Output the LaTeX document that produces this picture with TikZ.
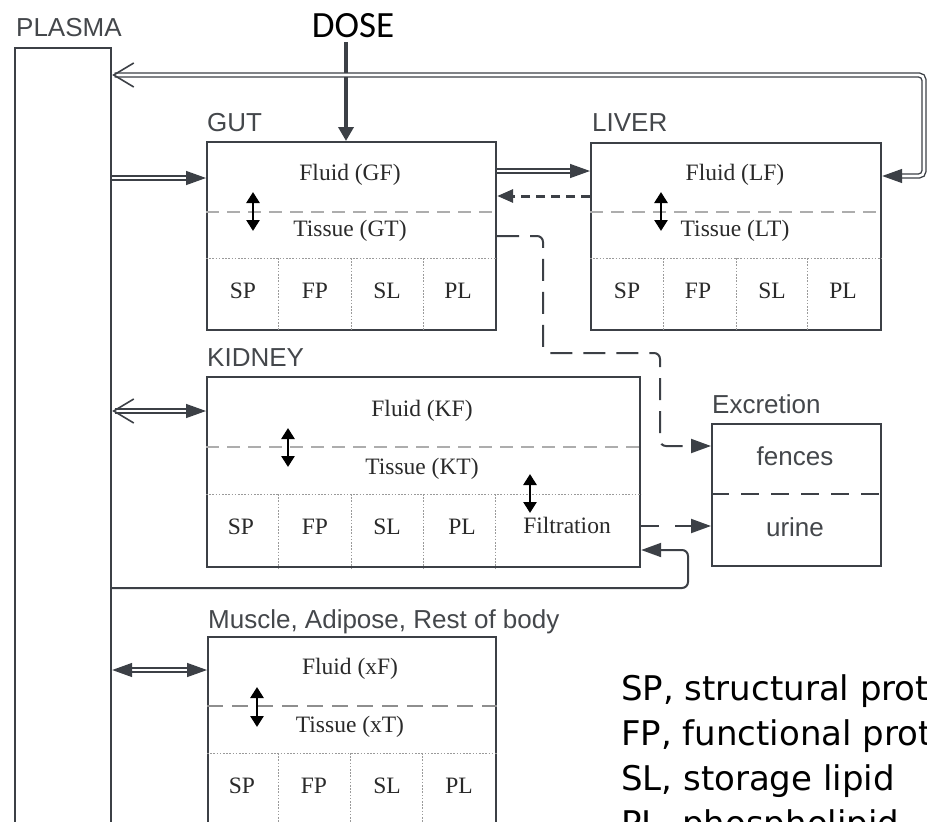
\documentclass[tikz,border=0pt]{standalone}
\usepackage{fontspec}
\usetikzlibrary{arrows.meta}
\newfontfamily\lblfont{Liberation Sans}
\newfontfamily\serfont{Liberation Serif}
\newfontfamily\dosefont{Carlito}
\newfontfamily\legfont{DejaVu Sans}
\definecolor{boxc}{HTML}{3C4046}
\definecolor{lblc}{HTML}{44474B}
\definecolor{txtc}{HTML}{2A2A2A}
\definecolor{dashc}{HTML}{ADADAD}
\definecolor{mdashc}{HTML}{8E8E8E}
\definecolor{dotc}{HTML}{9A9A9A}
\tikzset{
  fh/.tip={Triangle[length=20pt,width=14pt]},
  ob/.tip={Straight Barb[length=20pt,width=24pt,line width=1.6pt]},
  organ/.style={draw=boxc, line width=2.2pt, rectangle, inner sep=0pt, anchor=north west},
  lbl/.style={font=\lblfont\fontsize{26}{30}\selectfont, text=lblc, anchor=base west, inner sep=0pt},
  ser/.style={font=\serfont\fontsize{23.5}{27}\selectfont, text=txtc, anchor=base, inner sep=0pt},
  leg/.style={font=\legfont\fontsize{34}{40}\selectfont, text=black, anchor=base west, inner sep=0pt},
  fdash/.style={draw=dashc, line width=1.3pt, dash pattern=on 13pt off 8pt},
  mdash/.style={draw=mdashc, line width=2pt, dash pattern=on 16pt off 9pt},
  cdot/.style={draw=dotc, line width=0.9pt, dash pattern=on 1.6pt off 1.6pt},
  xarr/.style={draw=black, line width=2.6pt, {Triangle[length=11pt,width=13pt]}-{Triangle[length=11pt,width=13pt]}},
  dbl/.style={draw=boxc, double=white, line width=1.4pt, double distance=2.6pt},
  conn/.style={draw=boxc, line width=2pt},
}
\begin{document}
\begin{tikzpicture}[x=1pt,y=-1pt]
\useasboundingbox (0,0) rectangle (927,822);
\clip (0,0) rectangle (927,822);
\fill[white] (0,0) rectangle (927,822);

% ---------- boxes ----------
\node[organ, minimum width=96pt, minimum height=900pt] (plasma) at (14,47) {};
\node[organ, minimum width=289pt, minimum height=188pt] (gut) at (206,141) {};
\node[organ, minimum width=290pt, minimum height=187pt] (liver) at (590,142) {};
\node[organ, minimum width=433pt, minimum height=190pt] (kidney) at (206,376) {};
\node[organ, minimum width=169pt, minimum height=142pt] (excr) at (711,423) {};
\node[organ, minimum width=288pt, minimum height=190pt] (muscle) at (207,636) {};

% ---------- labels ----------
\node[lbl] (lplasma) at (16,36) {PLASMA};
\node[lbl] (lgut) at (207,131) {GUT};
\node[lbl] (lliver) at (592,131) {LIVER};
\node[lbl] (lkidney) at (207,366) {KIDNEY};
\node[lbl] (lexcr) at (712,413) {Excretion};
\node[lbl] (lmuscle) at (208,628) {Muscle, Adipose, Rest of body};
\node[font=\dosefont\fontsize{37}{42}\selectfont, text=black, anchor=base, inner sep=0pt] (dose) at (353,37) {DOSE};

% ---------- gut internals ----------
\draw[fdash] (gut.west |- 0,212) -- (gut.east |- 0,212);
\draw[cdot] (gut.west |- 0,258) -- (gut.east |- 0,258);
\foreach \xx in {278,351,423} \draw[cdot] (\xx,258) -- (\xx,0 |- gut.south);
\node[ser] (gf) at (350,180) {Fluid (GF)};
\node[ser] (gt) at (350,236) {Tissue (GT)};
\node[ser] (gsp) at (243,298) {SP};
\node[ser] (gfp) at (315,298) {FP};
\node[ser] (gsl) at (387,298) {SL};
\node[ser] (gpl) at (458,298) {PL};
\draw[xarr] (253,192) -- (253,231);

% ---------- liver internals ----------
\draw[fdash] (liver.west |- 0,212) -- (liver.east |- 0,212);
\draw[cdot] (liver.west |- 0,258) -- (liver.east |- 0,258);
\foreach \xx in {663,736,807} \draw[cdot] (\xx,258) -- (\xx,0 |- liver.south);
\node[ser] (lf) at (735,180) {Fluid (LF)};
\node[ser] (lt) at (735,236) {Tissue (LT)};
\node[ser] (lsp) at (627,298) {SP};
\node[ser] (lfp) at (698,298) {FP};
\node[ser] (lsl) at (772,298) {SL};
\node[ser] (lpl) at (843,298) {PL};
\draw[xarr] (661,192) -- (661,231);

% ---------- kidney internals ----------
\draw[fdash] (kidney.west |- 0,447) -- (kidney.east |- 0,447);
\draw[cdot] (kidney.west |- 0,494) -- (kidney.east |- 0,494);
\foreach \xx in {278,351,423,495} \draw[cdot] (\xx,494) -- (\xx,0 |- kidney.south);
\node[ser] (kf) at (422,416) {Fluid (KF)};
\node[ser] (kt) at (422,474) {Tissue (KT)};
\node[ser] (ksp) at (241,534) {SP};
\node[ser] (kfp) at (315,534) {FP};
\node[ser] (ksl) at (387,534) {SL};
\node[ser] (kpl) at (462,534) {PL};
\node[ser] (kfil) at (567,533) {Filtration};
\draw[xarr] (288,428) -- (288,467);
\draw[xarr] (530,474) -- (530,513);

% ---------- excretion internals ----------
\draw[conn, dash pattern=on 18pt off 12pt] (excr.west |- 0,494) -- (excr.east |- 0,494);
\node[font=\lblfont\fontsize{26}{30}\selectfont, text=lblc, anchor=base, inner sep=0pt] (fences) at (795,465) {fences};
\node[font=\lblfont\fontsize{26}{30}\selectfont, text=lblc, anchor=base, inner sep=0pt] (urine) at (795,536) {urine};

% ---------- muscle internals ----------
\draw[mdash] (muscle.west |- 0,706) -- (muscle.east |- 0,706);
\draw[cdot] (muscle.west |- 0,753) -- (muscle.east |- 0,753);
\foreach \xx in {278,350,422} \draw[cdot] (\xx,753) -- (\xx,0 |- muscle.south);
\node[ser] (mf) at (350,674) {Fluid (xF)};
\node[ser] (mt) at (350,732) {Tissue (xT)};
\node[ser] (msp) at (242,793) {SP};
\node[ser] (mfp) at (314,793) {FP};
\node[ser] (msl) at (387,793) {SL};
\node[ser] (mpl) at (459,793) {PL};
\draw[xarr] (257,687) -- (257,727);

% ---------- connectors ----------
\draw[draw=boxc, line width=4.5pt, shorten <=5pt, -{Triangle[length=14pt,width=15pt]}] (dose.south -| 346,0) -- (gut.north -| 346,0);
\draw[dbl, -fh] (plasma.east |- 0,178) -- (gut.west |- 0,178);
\draw[dbl, -fh] (gut.east |- 0,171) -- (liver.west |- 0,171);
\draw[draw=boxc, line width=3pt, dash pattern=on 9pt off 6pt, -{Triangle[length=16pt,width=13pt]}] (liver.west |- 0,196) -- (gut.east |- 0,196);
\draw[conn, dash pattern=on 22pt off 11pt, rounded corners=6pt, -fh] (gut.east |- 0,236) -- (543,236) -- (543,353) -- (660,353) -- (660,446) -- (excr.west |- 0,446);
\draw[dbl, rounded corners=5pt, ob-fh] (plasma.east |- 0,75) -- (924,75) -- (924,176) -- (liver.east |- 0,176);
\draw[dbl, ob-fh] (plasma.east |- 0,411) -- (kidney.west |- 0,411);
\draw[conn, rounded corners=6pt, -fh] (plasma.east |- 0,588) -- (688,588) -- (688,550) -- (kidney.east |- 0,550);
\draw[conn, dash pattern=on 18pt off 16pt, -fh] (kidney.east |- 0,526) -- (excr.west |- 0,526);
\draw[dbl, fh-fh] (plasma.east |- 0,670) -- (muscle.west |- 0,670);

% ---------- legend ----------
\node[leg] (leg1) at (621,700) {SP, structural protein};
\node[leg] (leg2) at (621,745) {FP, functional protein};
\node[leg] (leg3) at (621,790) {SL, storage lipid};
\node[leg] (leg4) at (621,835) {PL, phospholipid};
\end{tikzpicture}
\end{document}
